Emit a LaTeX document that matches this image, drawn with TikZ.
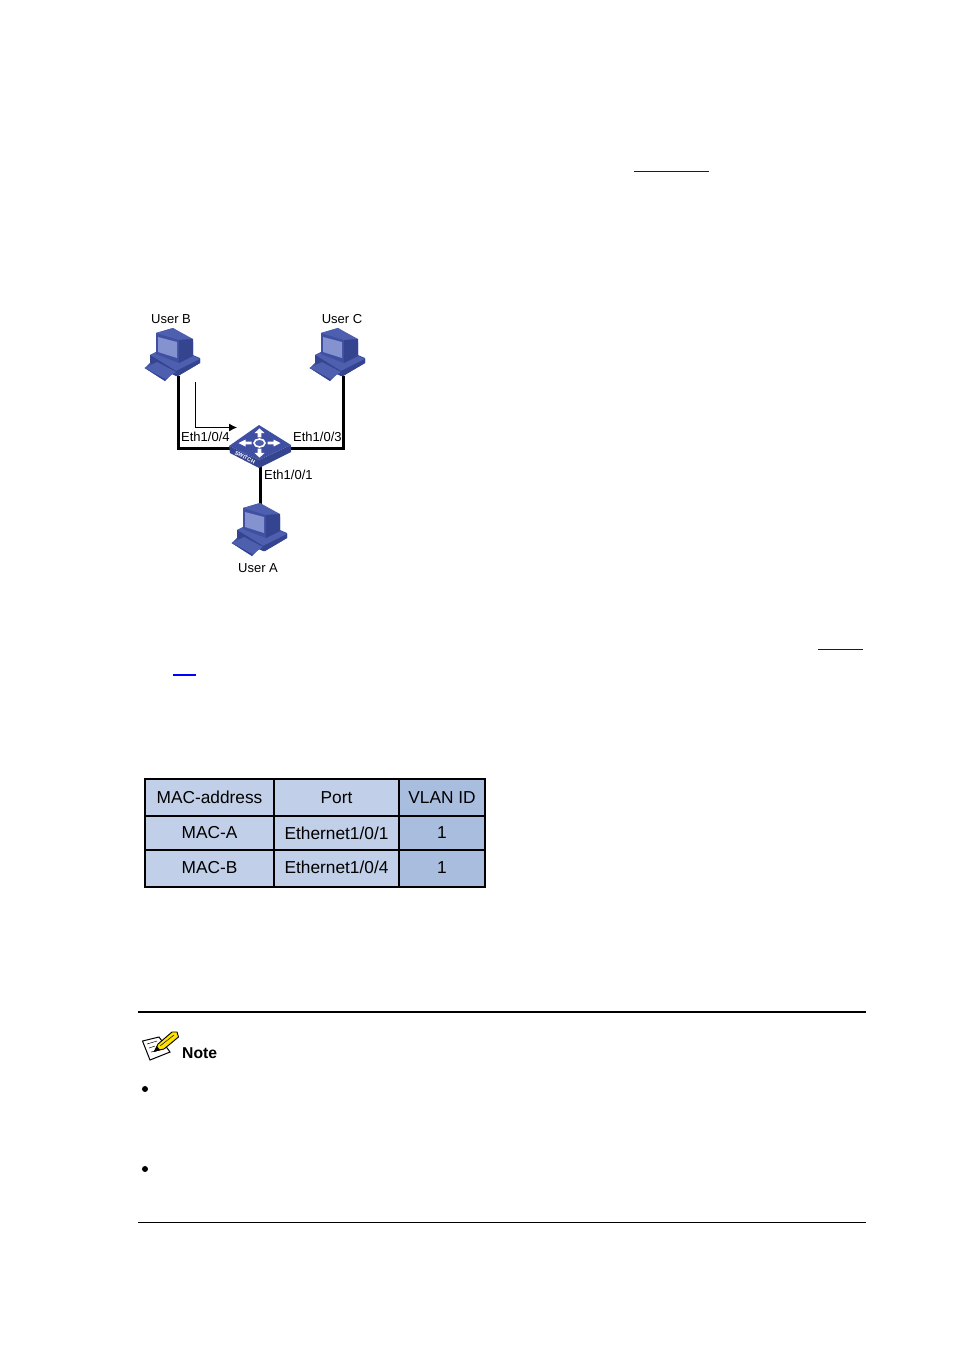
\documentclass[tikz,border=0pt]{standalone}
\usepackage{fontspec}
\setmainfont{Liberation Sans}
\usetikzlibrary{arrows.meta,positioning,calc}
\definecolor{pcdark}{HTML}{34448F}
\definecolor{pcmid}{HTML}{3F50A3}
\definecolor{pctop}{HTML}{4D5FAE}
\definecolor{pcscreen}{HTML}{8492CF}
\definecolor{cellc}{HTML}{C1CFE8}
\definecolor{celld}{HTML}{A9BDDF}
\definecolor{linkblue}{HTML}{0000FF}
\tikzset{
  linkline/.style={line width=3pt},
  flowline/.style={line width=0.9pt, -{Latex[length=8pt,width=8pt]}},
  portlabel/.style={font=\fontsize{13}{15}\selectfont, inner sep=0pt},
  rulethin/.style={line width=1pt},
  maccell/.style={draw, line width=1.6pt, fill=cellc, inner sep=0pt, font=\fontsize{17.3}{20}\selectfont},
  vlancell/.style={maccell, fill=celld},
  pcicon/.pic={
    % whole outline first, the faces go on top of it
    \fill[pcmid] (4.7,43) -- (10,38) -- (10,30) -- (16,27) -- (16,8) -- (33,3) -- (53,17) -- (53,30) -- (60,33) -- (60,38) -- (38,51) -- (32,49) -- (25,56) -- cycle;
    \fill[pctop] (10,30) -- (16,27) -- (53,31) -- (60,34) -- (36,46) -- cycle;
    \fill[pcdark] (36,46) -- (60,34) -- (60,38) -- (38,51) -- (36,51) -- cycle;
    \fill[pcdark] (10,30) -- (36,46) -- (36,51) -- (10,38) -- cycle;
    \fill[pctop] (4.7,43) -- (17,37) -- (36,47) -- (25,54) -- cycle;
    \fill[pcdark] (4.7,43) -- (25,54) -- (25,56) -- cycle;
    \fill[pcmid] (16,8) -- (39,15) -- (39,38) -- (16,29) -- cycle;
    \fill[pctop] (16,8) -- (33,3) -- (53,14) -- (39,15) -- cycle;
    \fill[pcdark] (39,15) -- (53,14) -- (53,31) -- (39,38) -- cycle;
    \fill[pcscreen] (18,12) -- (37,17) -- (37,33) -- (18,27) -- cycle;
  },
}
\begin{document}
\begin{tikzpicture}[x=1pt, y=-1pt]
\useasboundingbox (0,0) rectangle (954,1350);
% text lines of the page are gone, only the link rules stay
\coordinate (refa) at (634,171.5);
\coordinate (refb) at (709,171.5);
\coordinate (refc) at (818,649.5);
\coordinate (refd) at (863,649.5);
\coordinate (refe) at (173,675);
\coordinate (reff) at (196,675);
\draw[linkblue, line width=1pt] (refa) -- (refb);
\draw[linkblue, line width=1pt] (refc) -- (refd);
\draw[linkblue, line width=2pt] (refe) -- (reff);

% ---- the three hosts ----
\coordinate (userb) at (178.5,376);
\coordinate (userc) at (343.5,376);
\coordinate (usera) at (260.5,505);
\coordinate (swleft) at (232,448.5);
\coordinate (swright) at (286,448.5);
\coordinate (swdown) at (260.5,466);
\draw[linkline] (userb) |- (swleft);
\draw[linkline] (userc) |- (swright);
\draw[linkline] (usera) -- (swdown);

\pic at (140,325) {pcicon};
\pic at (305,325) {pcicon};
\pic at (227,500) {pcicon};
\node[portlabel] (lblb) at (171,319) {User B};
\node[portlabel] (lblc) at (342,319) {User C};
\node[portlabel] (lbla) at (258,568) {User A};

% ---- the switch ----
\fill[pcdark] (229,446) -- (230,453) -- (259,468) -- (291,452) -- (291,445) -- (259,460) -- cycle;
\fill[pcmid] (229,446) -- (259,425) -- (291,445) -- (259,460) -- cycle;
\foreach \a in {0,90,180,270}{
  \begin{scope}[shift={(259.5,443)}, yscale=0.7, rotate=\a]
    \fill[white] (8,-1.8) -- (14,-1.8) -- (14,-5) -- (21,0) -- (14,5) -- (14,1.8) -- (8,1.8) -- cycle;
  \end{scope}
}
\draw[white, line width=1.6pt, fill=pctop] (259.5,443) circle[x radius=5.5, y radius=4];
\node[white, rotate=-27, inner sep=0pt, font=\bfseries\fontsize{5.5}{5.5}\selectfont] (swname) at (245,457.5) {SWITCH};

\coordinate (flowa) at (195.5,382);
\coordinate (flowb) at (237,427.5);
\draw[flowline] (flowa) |- (flowb);
\node[portlabel, anchor=west] (porta) at (181,437) {Eth1/0/4};
\node[portlabel, anchor=west] (portb) at (293,437) {Eth1/0/3};
\node[portlabel, anchor=west] (portc) at (264,475) {Eth1/0/1};

% ---- address table ----
\node[maccell, minimum width=129pt, minimum height=37pt] (mac0) at (209.5,797.5) {MAC-address};
\node[maccell, minimum width=125pt, minimum height=37pt] (port0) at (336.5,797.5) {Port};
\node[vlancell, minimum width=86pt, minimum height=37pt] (vlan0) at (442,797.5) {VLAN ID};
\node[maccell, minimum width=129pt, minimum height=34pt] (mac1) at (209.5,833) {MAC-A};
\node[maccell, minimum width=125pt, minimum height=34pt] (port1) at (336.5,833) {Ethernet1/0/1};
\node[vlancell, minimum width=86pt, minimum height=34pt] (vlan1) at (442,833) {1};
\node[maccell, text depth=2pt, minimum width=129pt, minimum height=37pt] (mac2) at (209.5,868.5) {MAC-B};
\node[maccell, text depth=2pt, minimum width=125pt, minimum height=37pt] (port2) at (336.5,868.5) {Ethernet1/0/4};
\node[vlancell, text depth=2pt, minimum width=86pt, minimum height=37pt] (vlan2) at (442,868.5) {1};
\draw[line width=2.2pt] (145,779) rectangle (485,887);

% ---- note block ----
\coordinate (notea) at (138,1012);
\coordinate (noteb) at (866,1012);
\coordinate (notec) at (138,1222.5);
\coordinate (noted) at (866,1222.5);
\draw[line width=1.8pt] (notea) -- (noteb);
\draw[rulethin] (notec) -- (noted);
\draw[fill=white, line width=1pt] (142.5,1041) -- (159,1037) -- (170,1052) -- (150,1060) -- cycle;
\draw[line width=0.5pt] (147,1044) -- (157,1041) (149,1048) -- (155,1046) (151,1052) -- (160,1050);
\draw[fill=yellow!85!orange, line width=0.9pt] (154.5,1051) -- (158,1044) -- (172,1032) -- (177,1032) -- (178.5,1037) -- (164,1049) -- cycle;
\draw[line width=0.5pt] (160,1046) -- (174,1035);
\fill (154,1052) -- (157,1046) -- (160,1050) -- cycle;
\node[inner sep=0pt, anchor=west, font=\bfseries\fontsize{15.7}{18}\selectfont] (notetxt) at (182,1053) {Note};
\fill (145,1089) circle (3);
\fill (145,1169) circle (3);
\end{tikzpicture}
\end{document}
